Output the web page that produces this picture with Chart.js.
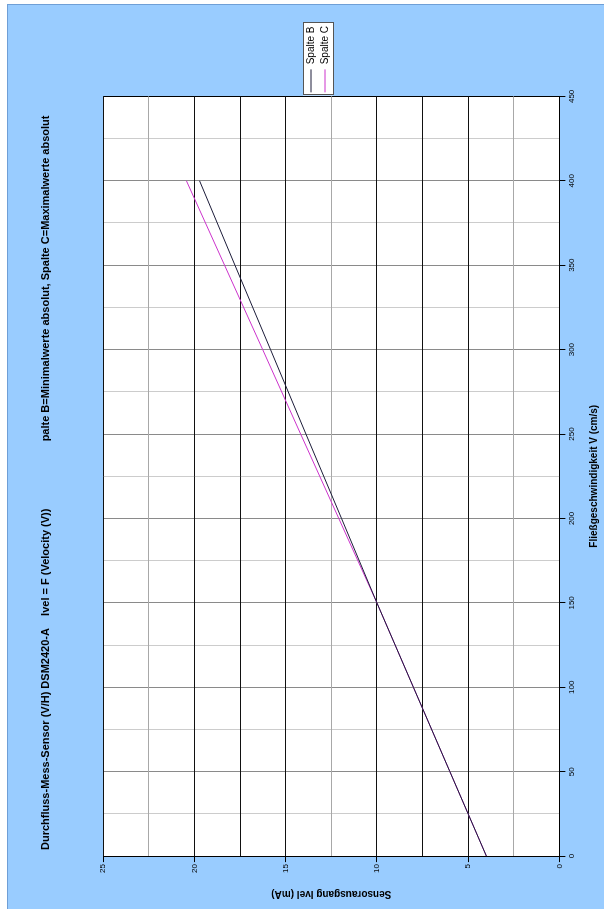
<!DOCTYPE html>
<html lang="de">
<head>
<meta charset="UTF-8">
<title>Durchfluss-Mess-Sensor DSM2420-A</title>
<style>
    body { margin: 0; background: #fff; overflow: hidden; width: 604px; height: 909px; }
    /* the whole chart is drawn in landscape and turned a quarter turn to the left */
    #wrap { position: absolute; left: 0; top: 0; width: 909px; height: 604px;
            transform-origin: 0 0; transform: translateY(909px) rotate(-90deg); }
    #panel { position: absolute; left: -2px; top: 7px; width: 905px; height: 610px;
             background: #99ccff; border: 1px solid #6f9fd6; }
    #chart { position: absolute; left: 0; top: 0; }
</style>
</head>
<body>
<div id="wrap">
    <div id="panel"></div>
    <canvas id="chart" width="909" height="604"></canvas>
</div>

<script src="https://cdn.jsdelivr.net/npm/chart.js"></script>
<script>
// Data
const velocity = [0, 50, 100, 150, 200, 250, 300, 350, 400];          // cm/s
const spalteB  = [4, 6, 8, 10, 11.94, 13.89, 15.83, 17.78, 19.72];    // mA, Minimalwerte
const spalteC  = [4, 6, 8, 10, 12.09, 14.18, 16.26, 18.35, 20.44];    // mA, Maximalwerte
const seriesNames = ['Spalte B', 'Spalte C'];
const titleText = '  Durchfluss-Mess-Sensor (V/H) DSM2420-A    Ivel = F (Velocity (V))                      palte B=Minimalwerte absolut, Spalte C=Maximalwerte absolut';
const xTitle = 'Fließgeschwindigkeit V (cm/s)';
const yTitle = 'Sensorausgang Ivel (mA)';

Chart.defaults.font.family = 'Arial, "Liberation Sans", sans-serif';
Chart.defaults.color = '#000';

// white plot area + framed white legend box
const framePlugin = {
    id: 'frame',
    beforeDraw(chart) {
        const { ctx, chartArea: a } = chart;
        ctx.save();
        ctx.fillStyle = '#fff';
        ctx.fillRect(a.left, a.top, a.width, a.height);
        const hb = chart.legend.legendHitBoxes;
        if (hb && hb.length) {
            const l = Math.min(...hb.map(h => h.left)) - 3;
            const t = Math.min(...hb.map(h => h.top)) - 3;
            const r = Math.max(...hb.map(h => h.left + h.width)) + 3;
            const b = Math.max(...hb.map(h => h.top + h.height)) + 3;
            ctx.fillRect(l, t, r - l, b - t);
            ctx.strokeStyle = '#555';
            ctx.lineWidth = 1;
            ctx.strokeRect(Math.round(l) + 0.5, Math.round(t) + 0.5, Math.round(r - l), Math.round(b - t));
        }
        ctx.restore();
    }
};

const toPoints = arr => velocity.map((v, i) => ({ x: v, y: arr[i] }));

new Chart(document.getElementById('chart'), {
    type: 'line',
    data: {
        datasets: [
            { label: seriesNames[0], data: toPoints(spalteB), borderColor: '#1c1c3a', borderWidth: 1,
              pointRadius: 0, tension: 0, fill: false },
            { label: seriesNames[1], data: toPoints(spalteC), borderColor: '#cc33cc', borderWidth: 1,
              pointRadius: 0, tension: 0, fill: false }
        ]
    },
    options: {
        responsive: false,
        animation: false,
        devicePixelRatio: 1,
        layout: { padding: { left: 8, right: 16, top: 35, bottom: 3 } },
        plugins: {
            title: {
                display: true, text: titleText, align: 'start', fullSize: false,
                font: { size: 11, weight: 'bold' }, color: '#000',
                padding: { top: 4, bottom: 51 }
            },
            legend: {
                position: 'right', align: 'center',
                labels: {
                    usePointStyle: true, pointStyle: 'line', pointStyleWidth: 23, boxHeight: 10,
                    font: { size: 10 }, color: '#000', padding: 4
                }
            },
            tooltip: { enabled: false }
        },
        scales: {
            x: {
                type: 'linear', position: 'bottom', min: 0, max: 450,
                ticks: { stepSize: 25, autoSkip: false, maxRotation: 0, padding: 2, font: { size: 8 },
                         callback: v => (v % 50 === 0 ? v : '') },
                grid: {
                    color: c => c.tick.value === 450 ? '#000' : (c.tick.value % 50 === 0 ? '#8a8a8a' : '#cccccc'),
                    tickColor: c => (c.tick.value % 50 === 0 ? '#000' : 'rgba(0,0,0,0)'),
                    tickLength: 6
                },
                border: { color: '#000' },
                title: { display: true, text: xTitle, font: { size: 10, weight: 'bold' },
                         padding: { top: 9, bottom: 1 } }
            },
            y: {
                type: 'linear', position: 'left', min: 0, max: 25,
                ticks: { stepSize: 2.5, autoSkip: false, padding: 2, font: { size: 8 },
                         callback: v => (v % 5 === 0 ? v : '') },
                grid: {
                    color: c => ([2.5, 12.5, 22.5].includes(c.tick.value) ? '#a8a8a8' : '#111'),
                    tickColor: c => (c.tick.value % 5 === 0 ? '#000' : 'rgba(0,0,0,0)'),
                    tickLength: 6
                },
                border: { color: '#000' },
                title: { display: true, text: yTitle, font: { size: 10, weight: 'bold' },
                         padding: { top: 1, bottom: 13 } }
            }
        }
    },
    plugins: [framePlugin]
});
</script>
</body>
</html>
